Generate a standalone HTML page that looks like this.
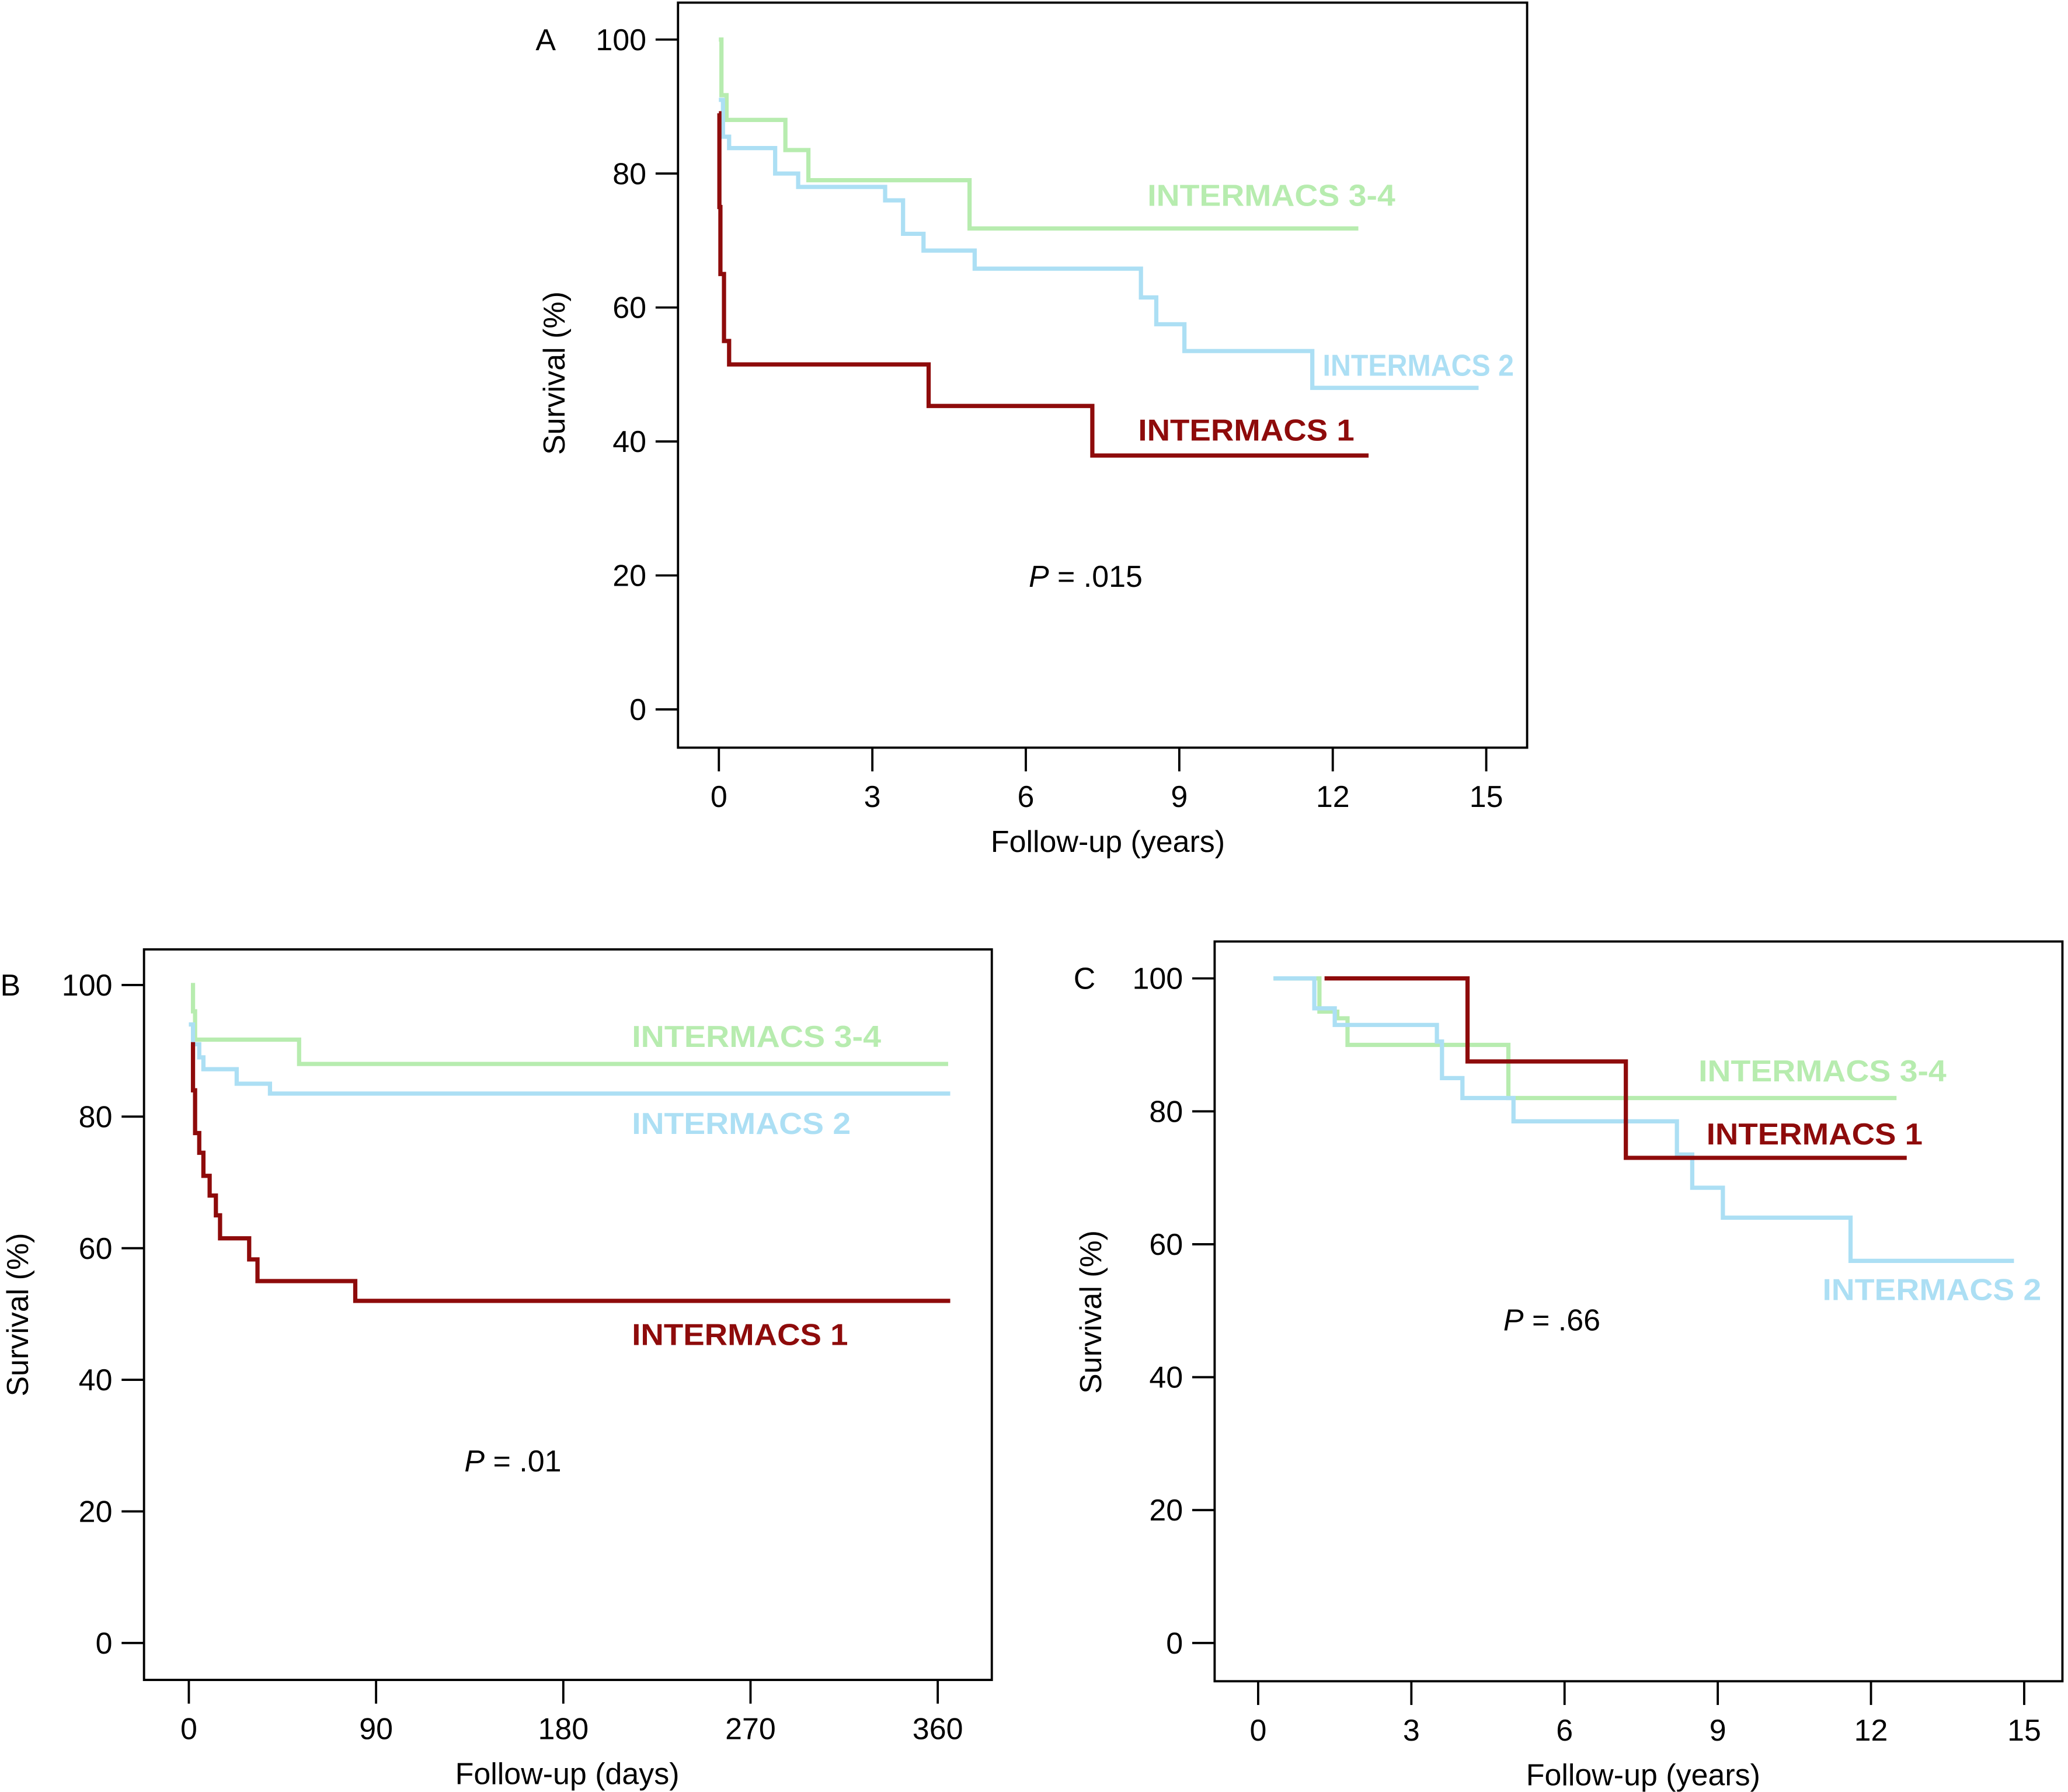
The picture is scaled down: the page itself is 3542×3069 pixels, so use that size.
<!DOCTYPE html>
<html><head><meta charset="utf-8"><style>
html,body{margin:0;padding:0;background:#fff}
svg{display:block}
text{font-family:"Liberation Sans",sans-serif}
</style></head><body>
<svg id="fig" xmlns="http://www.w3.org/2000/svg" width="3542" height="3069" viewBox="0 0 1568 1359"></svg>
<script>
// ---- Panel A data (years) ----
const aGreenX=[0,0.05,0.15,1.3,1.75,4.9,12.5];
const aGreenY=[100,91.7,88,83.5,79,71.8,71.8];
const aBlueX=[0,0.08,0.2,1.1,1.55,3.25,3.6,4.0,5.0,8.25,8.55,9.1,11.6,14.85];
const aBlueY=[91,85.5,83.8,80,78,76,71,68.5,65.8,61.5,57.5,53.5,48,48];
const aRedX=[0,0.01,0.03,0.1,0.2,4.1,7.3,12.7];
const aRedY=[89,75,65,55,51.5,45.3,37.9,37.9];
const aXTicks=[0,3,6,9,12,15];
// ---- Panel B data (days) ----
const bGreenX=[1,2,3,53,365];
const bGreenY=[100,96,91.7,88,88];
const bBlueX=[0,2,5,7,23,39,366];
const bBlueY=[94,91,89,87.2,85,83.5,83.5];
const bRedX=[1,2,3,5,7,10,13,15,29,33,80,366];
const bRedY=[91,84,77.5,74.5,71,68,65,61.5,58.3,55,52,52];
const bXTicks=[0,90,180,270,360];
// ---- Panel C data (years) ----
const cGreenX=[0.3,1.2,1.55,1.75,4.9,12.5];
const cGreenY=[100,95,94,90,82,82];
const cBlueX=[0.3,1.1,1.5,3.5,3.6,4.0,5.0,8.2,8.5,9.1,11.6,14.8];
const cBlueY=[100,95.5,93,90.5,85,82,78.5,73.5,68.5,64,57.5,57.5];
const cRedX=[1.3,4.1,7.2,12.7];
const cRedY=[100,87.5,73,73];
const cXTicks=[0,3,6,9,12,15];
const yTicks=[0,20,40,60,80,100];

const RED='#8e0b0b',BLUE='#acdff4',GREEN='#b7ecaf';
const NS='http://www.w3.org/2000/svg';
const svg=document.getElementById('fig');
function mk(tag,attrs,parent){const e=document.createElementNS(NS,tag);for(const k in attrs)e.setAttribute(k,attrs[k]);(parent||svg).appendChild(e);return e;}

function panel(cfg){
  const g=mk('g',{});
  
  
  const sx=v=>cfg.x0+(v-cfg.xmin)*(cfg.x1-cfg.x0)/(cfg.xmax-cfg.xmin);
  const sy=v=>cfg.y0+(v)*(cfg.y100-cfg.y0)/100;
  const box=mk('rect',{x:cfg.bx,y:cfg.by,width:cfg.bw,height:cfg.bh,fill:'none',stroke:'#000','stroke-width':1.7},g);
  
  
  const yt=mk('g',{},g);
  
  
  yTicks.forEach(t=>{
    mk('line',{x1:cfg.bx-17,x2:cfg.bx,y1:sy(t),y2:sy(t),stroke:'#000','stroke-width':1.7},yt);
    const tx=mk('text',{x:cfg.bx-24,y:sy(t)+8,'font-size':23,'text-anchor':'end'},yt);
    tx.textContent=t;
    
    
  });
  const xt=mk('g',{},g);
  
  
  const bot=cfg.by+cfg.bh;
  cfg.xticks.forEach(t=>{
    mk('line',{x1:sx(t),x2:sx(t),y1:bot,y2:bot+18,stroke:'#000','stroke-width':1.7},xt);
    const tx=mk('text',{x:sx(t),y:bot+45,'font-size':23,'text-anchor':'middle'},xt);
    tx.textContent=t;
    
    
  });
  const xl=mk('text',{x:cfg.xlx,y:bot+79,'font-size':23,'text-anchor':'middle'},g);
  xl.textContent=cfg.xlabel;
  
  
  const yl=mk('text',{x:0,y:0,'font-size':23,'text-anchor':'middle',transform:`translate(${cfg.ylx},${cfg.yly}) rotate(-90)`},g);
  yl.textContent='Survival (%)';
  
  
  const pl=mk('text',{x:cfg.plx,y:cfg.ply,'font-size':23},g);
  pl.textContent=cfg.id.toUpperCase();
  
  
  const pv=mk('text',{x:cfg.px,y:cfg.py,'font-size':23},g);
  const pi=mk('tspan',{'font-style':'italic'},pv);pi.textContent='P';
  const pr=mk('tspan',{},pv);pr.textContent=' = '+cfg.p;
  
  
  cfg.series.forEach(s=>{
    let d='M'+sx(s.x[0])+','+sy(s.y[0]);
    for(let i=1;i<s.x.length;i++){d+=' H'+sx(s.x[i])+' V'+sy(s.y[i]);}
    const p=mk('path',{d:d,fill:'none',stroke:s.c,'stroke-width':3.2},g);
    
    
    const t=mk('text',{x:s.lx,y:s.ly,'font-size':23,'font-weight':'bold',fill:s.c,textLength:s.lw,lengthAdjust:'spacingAndGlyphs'},g);
    t.textContent=s.label;
    
    
  });
}

panel({id:'a',bx:514,by:2,bw:644,bh:565,x0:545,x1:1127,xmin:0,xmax:15,y0:538,y100:30,
  xticks:aXTicks,xlabel:'Follow-up (years)',xlx:840,ylx:428,yly:283,plx:406,ply:38,p:'.015',px:780,py:445,
  series:[
   {n:'intermacs-3-4',x:aGreenX,y:aGreenY,c:GREEN,label:'INTERMACS 3-4',lx:870,ly:156,lw:188},
   {n:'intermacs-2',x:aBlueX,y:aBlueY,c:BLUE,label:'INTERMACS 2',lx:1003,ly:285,lw:145},
   {n:'intermacs-1',x:aRedX,y:aRedY,c:RED,label:'INTERMACS 1',lx:863,ly:334,lw:164}]});
panel({id:'b',bx:109,by:720,bw:643,bh:554,x0:143,x1:711,xmin:0,xmax:360,y0:1246,y100:747,
  xticks:bXTicks,xlabel:'Follow-up (days)',xlx:430,ylx:21,yly:997,plx:0,ply:755,p:'.01',px:352,py:1116,
  series:[
   {n:'intermacs-3-4',x:bGreenX,y:bGreenY,c:GREEN,label:'INTERMACS 3-4',lx:479,ly:794,lw:189},
   {n:'intermacs-2',x:bBlueX,y:bBlueY,c:BLUE,label:'INTERMACS 2',lx:479,ly:860,lw:166},
   {n:'intermacs-1',x:bRedX,y:bRedY,c:RED,label:'INTERMACS 1',lx:479,ly:1020,lw:164}]});
panel({id:'c',bx:921,by:714,bw:643,bh:561,x0:954,x1:1535,xmin:0,xmax:15,y0:1246,y100:742,
  xticks:cXTicks,xlabel:'Follow-up (years)',xlx:1246,ylx:835,yly:995,plx:814,ply:750,p:'.66',px:1140,py:1009,
  series:[
   {n:'intermacs-3-4',x:cGreenX,y:cGreenY,c:GREEN,label:'INTERMACS 3-4',lx:1288,ly:820,lw:188},
   {n:'intermacs-2',x:cBlueX,y:cBlueY,c:BLUE,label:'INTERMACS 2',lx:1382,ly:986,lw:166},
   {n:'intermacs-1',x:cRedX,y:cRedY,c:RED,label:'INTERMACS 1',lx:1294,ly:868,lw:164}]});
</script>
</body></html>
